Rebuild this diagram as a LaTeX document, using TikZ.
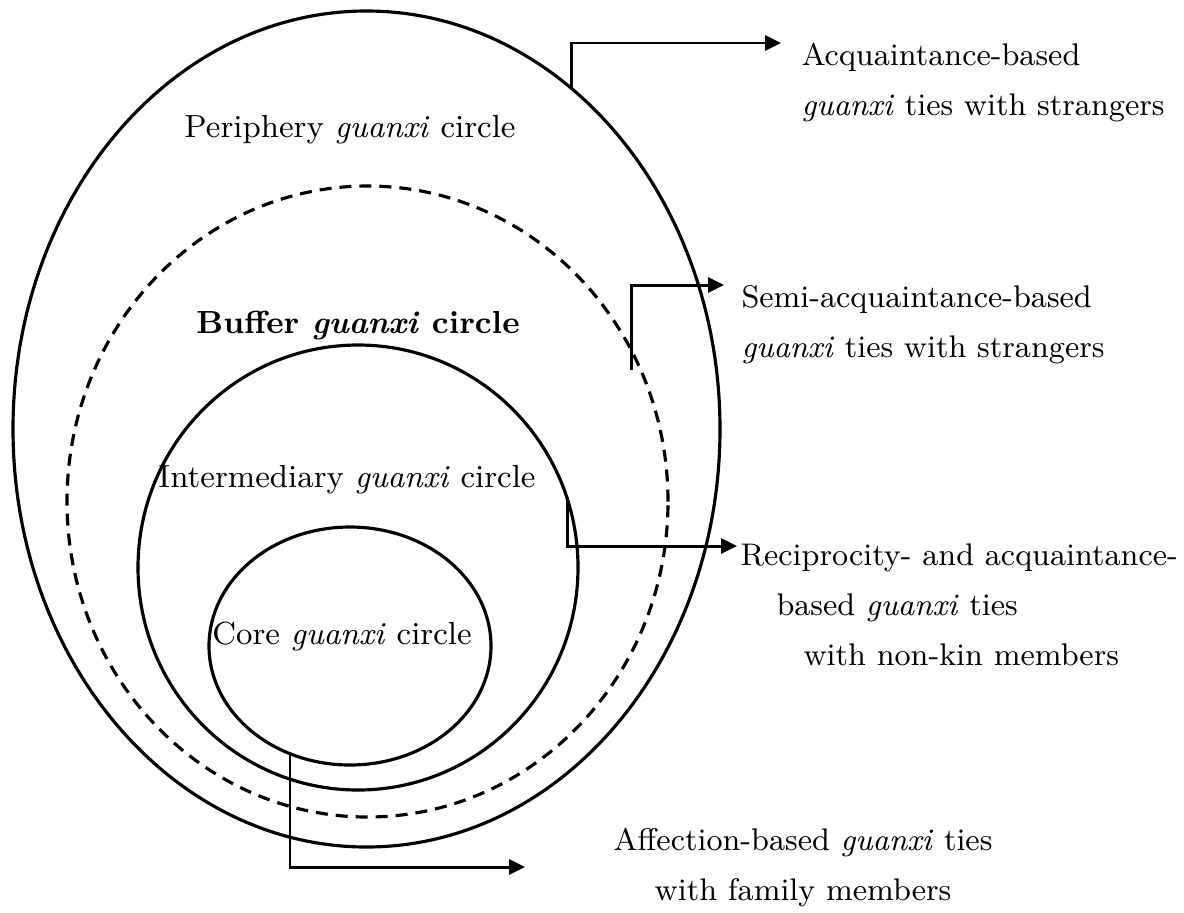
\documentclass[tikz,border=0pt]{standalone}
\usetikzlibrary{arrows.meta}
\begin{document}
\begin{tikzpicture}[line width=0.85pt,
        guide/.style={-{Triangle[length=1.6mm,width=1.5mm]}},
        ring/.style={line width=0.9pt},
        lbl/.style={font=\fontsize{9.1}{14.2}\selectfont, inner sep=0pt},
        side/.style={lbl, font=\fontsize{8.9}{14.2}\selectfont}]
        \useasboundingbox (0, 0) rectangle (11.84, -9.12);

        \draw[ring] (3.665, -4.29) ellipse (3.535 and 4.18);
        \draw[ring, dash pattern=on 1.2mm off 0.8mm] (3.675, -5.015) ellipse (3.005 and 3.155);
        \draw[ring] (3.58, -5.675) ellipse (2.20 and 2.225);
        \draw[ring] (3.50, -6.46) ellipse (1.41 and 1.19);

        \node[lbl, anchor=west] (periph) at (1.83, -1.30) {Periphery \textit{guanxi} circle};
        \node[lbl] (buffer) at (3.58, -3.26) {\textbf{Buffer \textit{guanxi} circle}};
        \node[lbl] (inter) at (3.47, -4.80) {Intermediary \textit{guanxi} circle};
        \node[lbl] (core) at (3.42, -6.36) {Core \textit{guanxi} circle};

        \node[side, anchor=west, align=left] (acq) at (8.00, -0.825)
            {Acquaintance-based\\ \textit{guanxi} ties with strangers};
        \node[side, anchor=west, align=left] (semi) at (7.40, -3.25)
            {Semi-acquaintance-based\\ \textit{guanxi} ties with strangers};
        \node[side, anchor=west, align=left] (recip) at (7.39, -6.05)
            {Reciprocity- and acquaintance-\\ \hspace*{0.36cm}based \textit{guanxi} ties\\ \hspace*{0.63cm}with non-kin members};
        \node[side, align=center] (affect) at (8.03, -8.675)
            {Affection-based \textit{guanxi} ties\\ with family members};

        \coordinate (acqFrom) at (5.71, -0.88);
        \coordinate (acqTo) at (7.81, -0.43);
        \coordinate (semiFrom) at (6.31, -3.70);
        \coordinate (semiTo) at (7.24, -2.85);
        \coordinate (recipFrom) at (5.67, -4.97);
        \coordinate (recipTo) at (7.37, -5.46);
        \coordinate (affectFrom) at (2.90, -7.55);
        \coordinate (affectTo) at (5.25, -8.67);

        \draw[guide] (acqFrom) |- (acqTo);
        \draw[guide] (semiFrom) |- (semiTo);
        \draw[guide] (recipFrom) |- (recipTo);
        \draw[guide] (affectFrom) |- (affectTo);
    \end{tikzpicture}
\end{document}
